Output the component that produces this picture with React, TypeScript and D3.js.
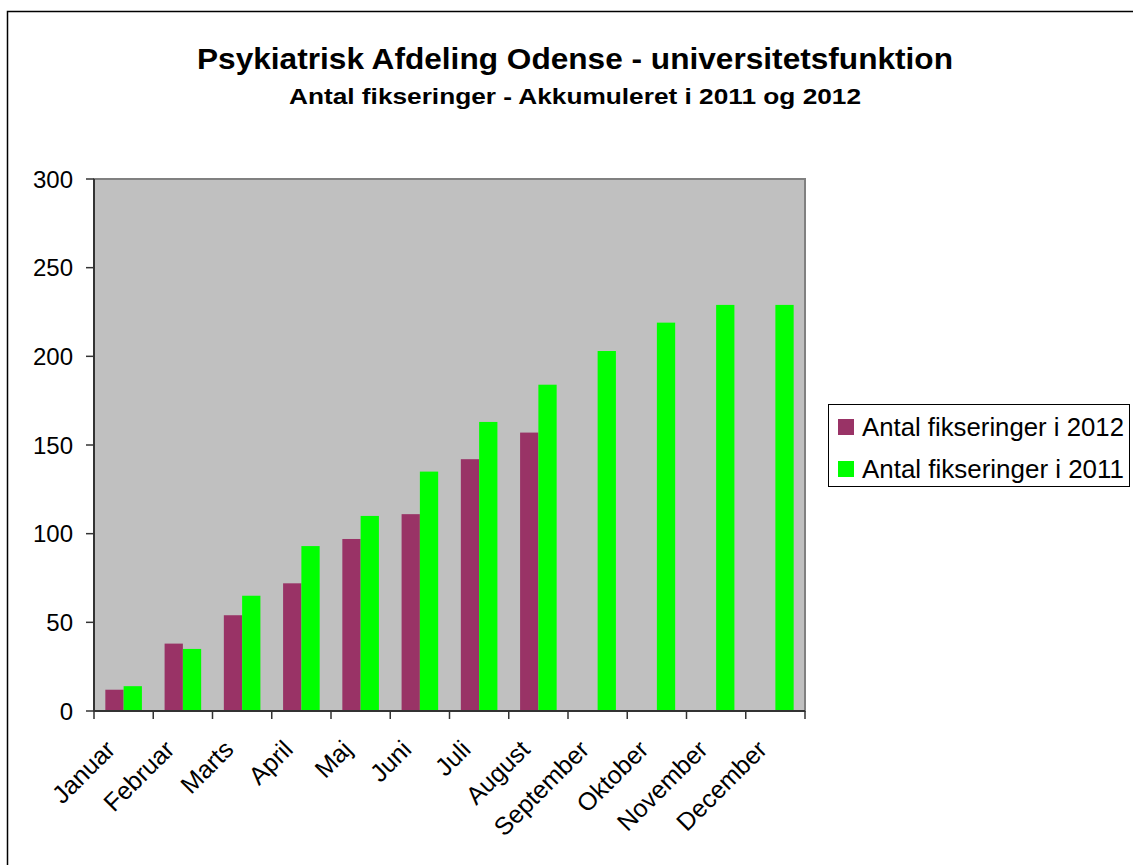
import React from 'react';
import * as d3 from 'd3';

// data
const months = ['Januar', 'Februar', 'Marts', 'April', 'Maj', 'Juni', 'Juli', 'August', 'September', 'Oktober', 'November', 'December'];
const values2012 = [12, 38, 54, 72, 97, 111, 142, 157, null, null, null, null];
const values2011 = [14, 35, 65, 93, 110, 135, 163, 184, 203, 219, 229, 229];
const yTicks = [0, 50, 100, 150, 200, 250, 300];
const seriesNames = ['Antal fikseringer i 2012', 'Antal fikseringer i 2011'];
const seriesColors = ['#993366', '#00FF00'];

const W = 1133;
const H = 865;
const plot = { left: 94, right: 805, top: 179, bottom: 711 };
const font = 'Arial, "Liberation Sans", sans-serif';

export default function App() {
  const x0 = d3.scaleBand<string>().domain(months).range([plot.left, plot.right]).padding(0);
  const x1 = d3.scaleBand<string>()
    .domain(['2012', '2011'])
    .range([0, x0.bandwidth()])
    .paddingInner(0)
    .paddingOuter(0.62);
  const y = d3.scaleLinear().domain([0, 300]).range([plot.bottom, plot.top]);

  const series = [
    { key: '2012', values: values2012, color: seriesColors[0] },
    { key: '2011', values: values2011, color: seriesColors[1] },
  ];

  const boundaries = months.map(m => x0(m) as number).concat([plot.right]);

  return (
    <svg width={W} height={H} style={{ position: 'absolute', left: 0, top: 0, background: '#fff' }} fontFamily={font}>
      {/* outer chart border */}
      <rect x={7.5} y={11.5} width={W + 10} height={H + 10} fill="#fff" stroke="#000" strokeWidth={1.5} />

      {/* titles */}
      <text x={575} y={69} textAnchor="middle" fontSize={29} fontWeight="bold" fill="#000"
        textLength={756} lengthAdjust="spacingAndGlyphs">
        Psykiatrisk Afdeling Odense - universitetsfunktion
      </text>
      <text x={575} y={104} textAnchor="middle" fontSize={22} fontWeight="bold" fill="#000"
        textLength={572} lengthAdjust="spacingAndGlyphs">
        Antal fikseringer - Akkumuleret i 2011 og 2012
      </text>

      {/* plot area */}
      <rect
        x={plot.left}
        y={plot.top}
        width={plot.right - plot.left}
        height={plot.bottom - plot.top}
        fill="#C0C0C0"
        stroke="#808080"
        strokeWidth={2}
      />

      {/* bars */}
      {series.map(s => (
        <g key={s.key}>
          {s.values.map((v, i) =>
            v == null ? null : (
              <rect
                key={i}
                x={(x0(months[i]) as number) + (x1(s.key) as number)}
                y={y(v)}
                width={x1.bandwidth()}
                height={y(0) - y(v)}
                fill={s.color}
              />
            )
          )}
        </g>
      ))}

      {/* y axis */}
      <line x1={plot.left} x2={plot.left} y1={plot.top} y2={plot.bottom} stroke="#333" strokeWidth={2} />
      {yTicks.map(t => (
        <g key={t}>
          <line x1={plot.left - 8} x2={plot.left} y1={y(t)} y2={y(t)} stroke="#333" strokeWidth={1.5} />
          <text x={plot.left - 21} y={y(t)} dy="0.36em" textAnchor="end" fontSize={24} fill="#000">
            {t}
          </text>
        </g>
      ))}

      {/* x axis */}
      <line x1={plot.left} x2={plot.right} y1={plot.bottom} y2={plot.bottom} stroke="#333" strokeWidth={2} />
      {boundaries.map((b, i) => (
        <line key={i} x1={b} x2={b} y1={plot.bottom} y2={plot.bottom + 8} stroke="#333" strokeWidth={1.5} />
      ))}
      {months.map(m => {
        const cx = (x0(m) as number) + x0.bandwidth() / 2 - 7;
        const cy = plot.bottom + 40;
        return (
          <text
            key={m}
            transform={`translate(${cx},${cy}) rotate(-45)`}
            textAnchor="end"
            fontSize={25}
            fill="#000"
          >
            {m}
          </text>
        );
      })}

      {/* legend */}
      <rect x={828.5} y={404.5} width={301} height={82} fill="#fff" stroke="#000" strokeWidth={1} />
      {seriesNames.map((name, i) => (
        <g key={name}>
          <rect x={838} y={419 + i * 42} width={16} height={16} fill={seriesColors[i]} />
          <text x={862} y={427 + i * 42} dy="0.36em" fontSize={25} fill="#000"
            textLength={262} lengthAdjust="spacingAndGlyphs">
            {name}
          </text>
        </g>
      ))}
    </svg>
  );
}
